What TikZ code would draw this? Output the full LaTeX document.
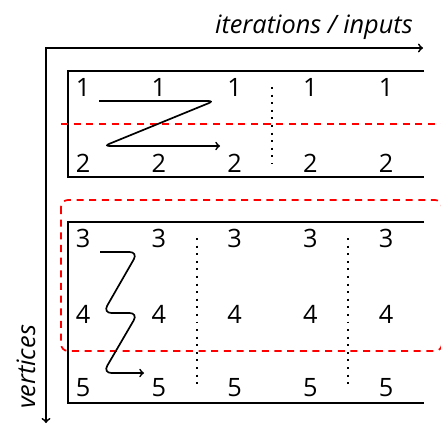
\documentclass[tikz,border=0pt]{standalone}
\usepackage{fontspec}
\setmainfont{Open Sans}
\usetikzlibrary{calc}

\begin{document}
\begin{tikzpicture}[x=0.025cm,y=-0.025cm,
  num/.style={font=\fontsize{18}{20}\selectfont, inner sep=0pt},
  axislabel/.style={font=\fontsize{18}{20}\selectfont\itshape, inner sep=0pt},
  band/.style={line width=0.8pt},
  cut/.style={red, line width=1.2pt, dash pattern=on 5pt off 4pt},
  order/.style={->, line width=1.2pt, rounded corners=4pt},
  sep/.style={line width=1.4pt, dash pattern=on 1.4pt off 4pt}]
\useasboundingbox (0,0) rectangle (441,427);

% axes
\coordinate (o) at (46,48);
\coordinate (xend) at (423,48);
\coordinate (yend) at (46,423);
\draw[<->, line width=1.3pt] (xend) -- (o) -- (yend);
\node[axislabel, anchor=base east] (xlab) at (413,34) {iterations / inputs};
\node[axislabel, rotate=90] (ylab) at (26,367) {vertices};

% the two blocks
\draw[band] (424,71) -- (68,71) -- (68,177) -- (424,177);
\draw[band] (424,222) -- (68,222) -- (68,403) -- (424,403);

\foreach \r/\y in {1/87, 2/163, 3/238, 4/314, 5/388}
  \foreach \c in {0,...,4}
    \node[num] (n\r-\c) at ({83+75.75*\c},\y) {\r};

% cuts
\draw[cut] (61,124) -- (441,124);
\draw[cut, rounded corners=5pt] (61,200) rectangle (442,351);

\draw[sep] ($(n1-2)!.5!(n1-3)$) -- ($(n2-2)!.5!(n2-3)$);
\draw[sep] ($(n3-1)!.5!(n3-2)$) -- ($(n5-1)!.5!(n5-2)$);
\draw[sep] ($(n3-3)!.5!(n3-4)$) -- ($(n5-3)!.5!(n5-4)$);

% order of traversal
\draw[order] (99,101) -- (214,101) -- (104,146) -- (220,146);
\draw[order, rounded corners=6pt] (100,252) -- (138,252) -- (103,313) -- (138,313) -- (103,373) -- (144,373);
\end{tikzpicture}
\end{document}
